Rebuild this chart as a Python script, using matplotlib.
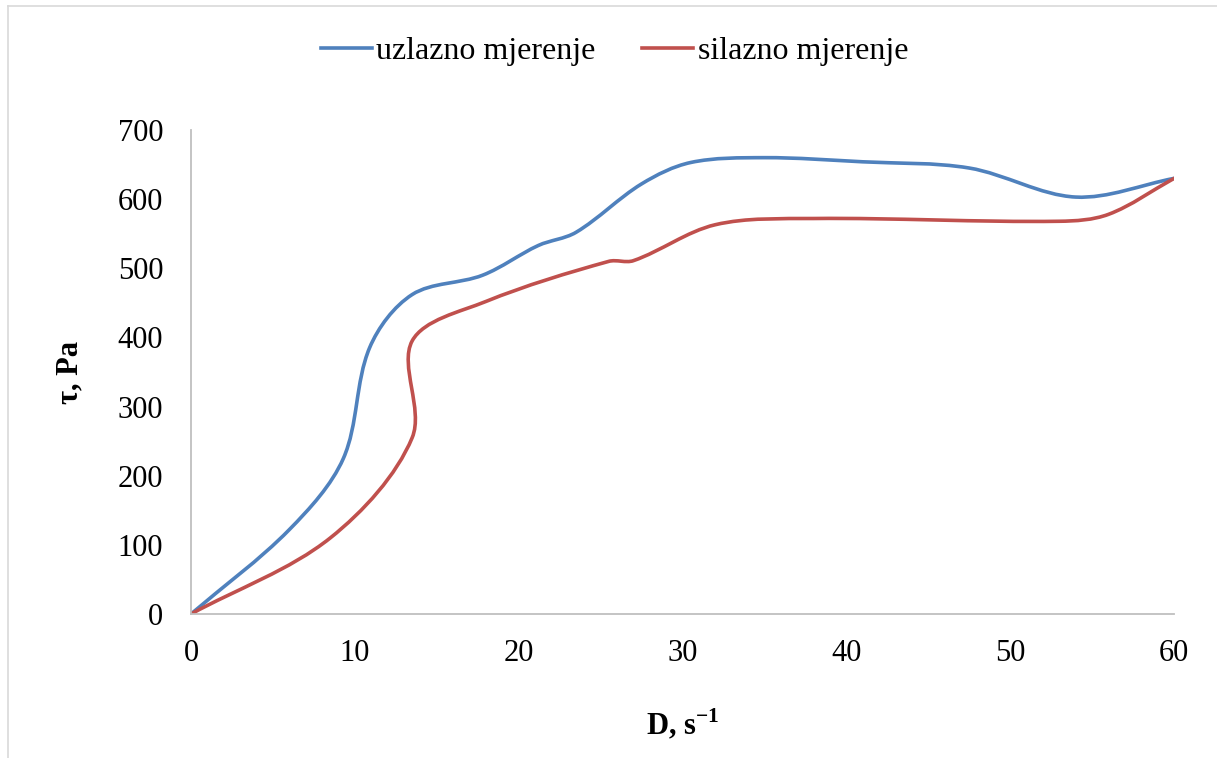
import numpy as np
import matplotlib
matplotlib.use("Agg")
import matplotlib.pyplot as plt
from matplotlib.path import Path
from matplotlib.patches import PathPatch
from matplotlib.lines import Line2D

plt.rcParams['font.family'] = ['Liberation Serif', 'DejaVu Serif']
plt.rcParams['mathtext.fontset'] = 'custom'
plt.rcParams['mathtext.rm'] = 'Liberation Serif'
plt.rcParams['mathtext.bf'] = 'Liberation Serif:bold'

# uzlazno mjerenje (ramp up)
D_up = [0, 6, 9.3, 10.9, 13.5, 17.8, 21.2, 23.5, 27.5, 30.5, 35, 41, 47.5, 54, 60]
tau_up = [0, 122, 225, 385, 462, 490, 533, 552, 622, 653, 660, 654, 645, 603, 630]

# silazno mjerenje (ramp down)
D_down = [0, 8.5, 13.5, 13.5, 18, 25.5, 27, 32, 38, 53, 56, 60]
tau_down = [0, 110, 255, 395, 452, 510, 511, 563, 572, 568, 578, 630]

blue = '#4F81BD'
red = '#C0504D'


def smooth_path(ax, xs, ys, k=1 / 3):
    # smoothed line like in Excel: Bezier segments, tangents weighted by chord length (screen space)
    pts = ax.transData.transform(np.column_stack([xs, ys]).astype(float))
    n = len(pts)
    d = np.hypot(*np.diff(pts, axis=0).T)
    out_c = []
    in_c = []
    for i in range(n):
        if i == 0:
            t = pts[1] - pts[0]
            out_c.append(pts[0] + t * k)
            in_c.append(pts[0])
        elif i == n - 1:
            t = pts[-1] - pts[-2]
            in_c.append(pts[-1] - t * k)
            out_c.append(pts[-1])
        else:
            t = pts[i + 1] - pts[i - 1]
            s = d[i - 1] + d[i]
            out_c.append(pts[i] + t * k * d[i] / s)
            in_c.append(pts[i] - t * k * d[i - 1] / s)
    verts = [pts[0]]
    codes = [Path.MOVETO]
    for i in range(n - 1):
        verts += [out_c[i], in_c[i + 1], pts[i + 1]]
        codes += [Path.CURVE4] * 3
    verts = ax.transData.inverted().transform(np.array(verts))
    return Path(verts, codes)


fig = plt.figure(figsize=(12.17, 7.58), dpi=100)
ax = fig.add_axes([191 / 1217, 1 - 614 / 758, (1174 - 191) / 1217, (614 - 130) / 758])
ax.set_xlim(0, 60)
ax.set_ylim(0, 700)

for xs, ys, c in [(D_up, tau_up, blue), (D_down, tau_down, red)]:
    ax.add_patch(PathPatch(smooth_path(ax, xs, ys), facecolor='none', edgecolor=c,
                           lw=2.6, capstyle='round', joinstyle='round'))

ax.set_xticks(range(0, 61, 10))
ax.set_yticks(range(0, 701, 100))
ax.tick_params(length=0, labelsize=22, pad=18)
ax.tick_params(axis='y', pad=20)
for s in ['top', 'right']:
    ax.spines[s].set_visible(False)
for s in ['left', 'bottom']:
    ax.spines[s].set_color('#BFBFBF')
    ax.spines[s].set_linewidth(1.3)

ax.set_xlabel(r'D, s$^{\mathbf{-1}}$', fontsize=22, fontweight='bold', labelpad=28)
ax.set_ylabel('τ, Pa', fontsize=22, fontweight='bold', labelpad=24)

handles = [Line2D([], [], color=blue, lw=2.6), Line2D([], [], color=red, lw=2.6)]
fig.legend(handles, ['uzlazno mjerenje', 'silazno mjerenje'], loc='upper center',
           bbox_to_anchor=(0.505, 0.99), ncol=2, frameon=False, fontsize=23,
           handlelength=1.6, handletextpad=0.15, columnspacing=1.45)

# chart area border (left and top edges)
fig.add_artist(Line2D([8 / 1217, 8 / 1217], [0, 1 - 6 / 758], color='#D9D9D9', lw=1.2))
fig.add_artist(Line2D([8 / 1217, 1], [1 - 6 / 758, 1 - 6 / 758], color='#D9D9D9', lw=1.2))

fig.savefig('out.png', dpi=100)
